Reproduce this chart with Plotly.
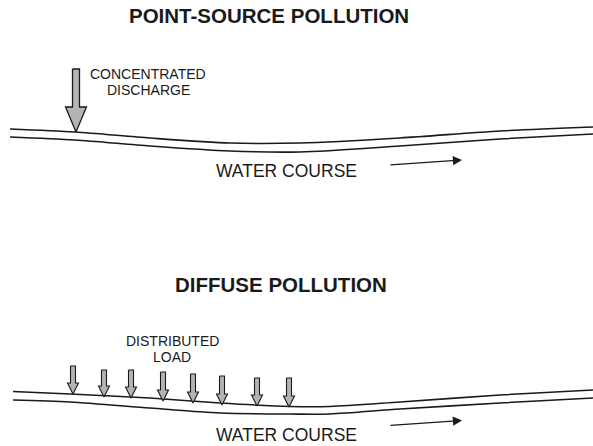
import plotly.graph_objects as go

W, H = 593, 446

# Titles and labels
titles = ["POINT-SOURCE POLLUTION", "DIFFUSE POLLUTION"]
point_label_lines = ["CONCENTRATED", "DISCHARGE"]
diffuse_label_lines = ["DISTRIBUTED", "LOAD"]
course_label = "WATER COURSE"

# River banks (x, y in drawing units)
top_bank_x = [10, 75, 150, 230, 300, 400, 500, 593]
top_upper_y = [129, 132, 138, 143, 143, 138, 131, 127]
top_lower_y = [137, 140, 146, 151, 152, 146, 139, 134]

bot_bank_x = [13, 70, 150, 220, 290, 330, 400, 500, 593]
bot_upper_y = [391.5, 394, 398, 403, 406.5, 406.5, 402, 395, 390]
bot_lower_y = [400, 402, 408, 413, 414, 414, 409, 403, 398]

# Discharge arrows
point_arrow_x = [76]
point_arrow_top = [69]
point_arrow_tip = [132]

diffuse_arrow_x = [73, 104, 131, 163, 193, 222, 257, 289]
diffuse_arrow_top = [366, 370, 370, 372, 374, 376, 378, 378]
diffuse_arrow_tip = [394, 397, 398, 401, 403, 405, 406, 407]

GRAY = "#b4b4b6"
INK = "#1a1a1a"

fig = go.Figure()

def add_bank(xs, ys):
    fig.add_trace(go.Scatter(x=xs, y=ys, mode="lines",
                             line=dict(color=INK, width=1.6, shape="spline", smoothing=0.8),
                             hoverinfo="skip", showlegend=False))

def add_arrow(x, top, tip, shaft_w, head_w, head_h, lw):
    sx = shaft_w / 2
    hx = head_w / 2
    neck = tip - head_h
    xs = [x - sx, x + sx, x + sx, x + hx, x, x - hx, x - sx, x - sx]
    ys = [top, top, neck, neck, tip, neck, neck, top]
    fig.add_trace(go.Scatter(x=xs, y=ys, mode="lines", fill="toself",
                             fillcolor=GRAY, line=dict(color=INK, width=lw),
                             hoverinfo="skip", showlegend=False))

add_bank(top_bank_x, top_upper_y)
add_bank(top_bank_x, top_lower_y)
add_bank(bot_bank_x, bot_upper_y)
add_bank(bot_bank_x, bot_lower_y)

for x, t, tp in zip(point_arrow_x, point_arrow_top, point_arrow_tip):
    add_arrow(x, t, tp, 7, 21, 25, 1.3)

for x, t, tp in zip(diffuse_arrow_x, diffuse_arrow_top, diffuse_arrow_tip):
    add_arrow(x, t, tp, 5, 11, 11, 1.1)

font = "Liberation Sans, Arial, sans-serif"

def txt(x, y, s, size, bold=False):
    return dict(x=x, y=y, xref="x", yref="y",
                text=("<b>%s</b>" % s) if bold else s, showarrow=False,
                font=dict(family=font, size=size, color=INK))

ann = [
    txt(269, 15, titles[0], 20.5, True),
    txt(281, 284, titles[1], 20.5, True),
    txt(148, 74, point_label_lines[0], 14),
    txt(148.5, 90, point_label_lines[1], 14),
    txt(172, 341, diffuse_label_lines[0], 14),
    txt(172, 357, diffuse_label_lines[1], 14),
    txt(286, 171, course_label, 17.5),
    txt(286, 435, course_label, 17.5),
]
# flow arrows
for (x0, y0, x1, y1) in [(389, 165, 462, 160), (389, 425.5, 462, 420.5)]:
    ann.append(dict(x=x1, y=y1, ax=x0, ay=y0, xref="x", yref="y", axref="x", ayref="y",
                    text="", showarrow=True, arrowhead=2, arrowsize=1.4,
                    arrowwidth=1.3, arrowcolor=INK))

fig.update_layout(
    width=W, height=H,
    margin=dict(l=0, r=0, t=0, b=0),
    paper_bgcolor="white", plot_bgcolor="white",
    xaxis=dict(range=[0, W], visible=False, fixedrange=True),
    yaxis=dict(range=[H, 0], visible=False, fixedrange=True),
    annotations=ann,
)

fig.write_html("out.html", config={"displayModeBar": False},
               post_script="document.body.style.margin='0';document.body.style.overflow='hidden';")
